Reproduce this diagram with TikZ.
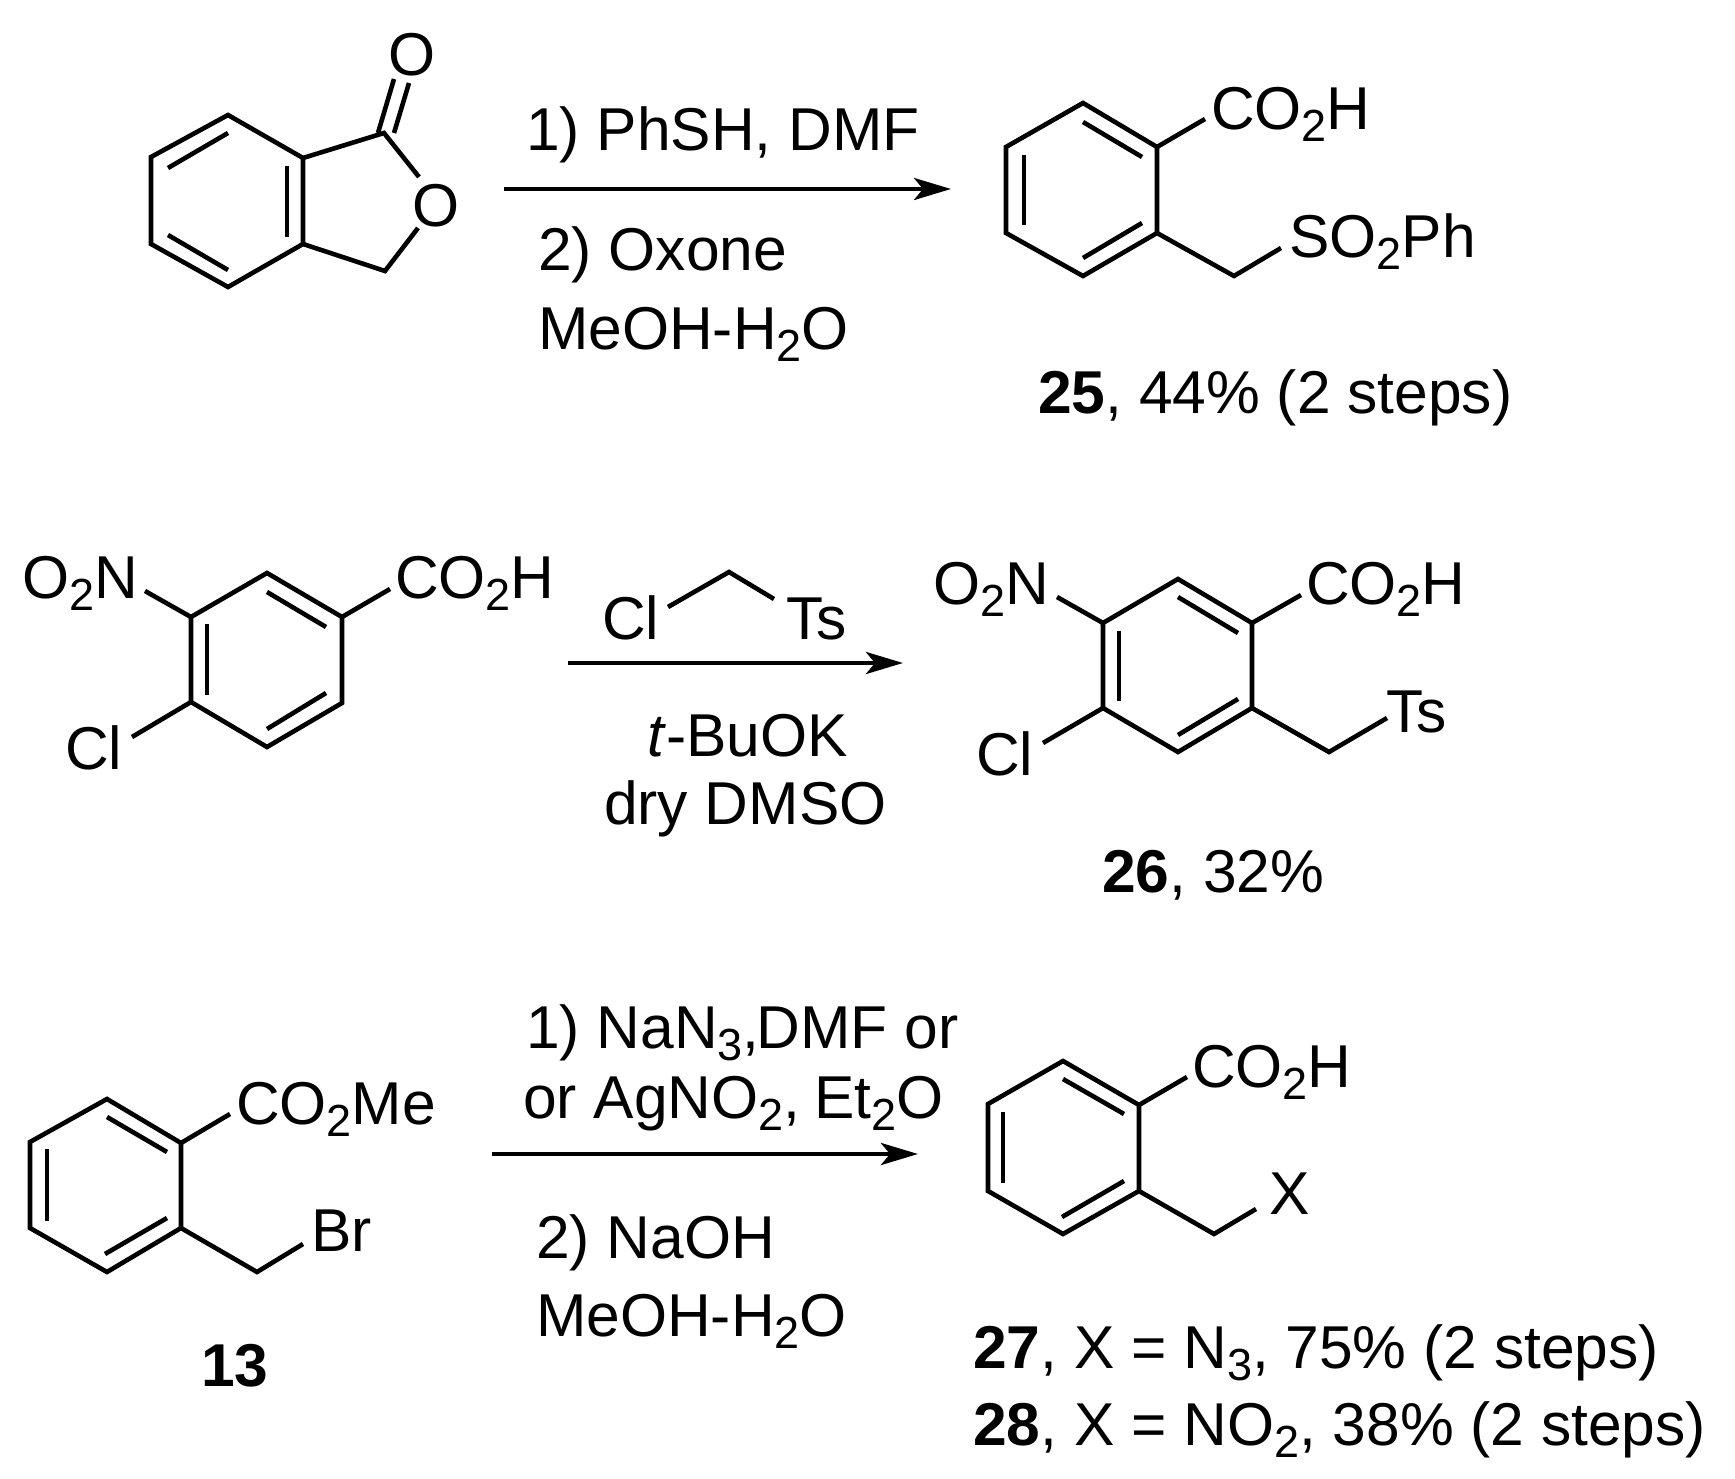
\documentclass[tikz,border=0pt]{standalone}
\usepackage{fontspec}
\setmainfont{Liberation Sans}
\usetikzlibrary{arrows.meta}
\newcommand{\low}[1]{\raisebox{-12pt}{\fontsize{45}{45}\selectfont #1}}
\tikzset{
  lab/.style={anchor=base west,inner sep=0pt,yshift=-1.5pt,font=\fontsize{60.5}{62}\selectfont},
  bond/.style={line width=4.6pt,line join=miter},
  rxn/.style={line width=4.4pt,-{Stealth[length=37pt,width=22pt,inset=9pt]}}
}
\begin{document}
\begin{tikzpicture}[x=1pt,y=-1pt]
        \useasboundingbox (0,0) rectangle (1735,1479);
        % first reaction
        \coordinate (a1) at (228,115);
        \coordinate (a2) at (303,158);
        \coordinate (a3) at (303,244);
        \coordinate (a4) at (228,287);
        \coordinate (a5) at (151,244);
        \coordinate (a6) at (151,157);
        \coordinate (a7) at (384,133);
        \coordinate (a8) at (385,271);
        \draw[bond] (a1) -- (a2) -- (a3) -- (a4) -- (a5) -- (a6) -- cycle;
        \draw[bond] (168,168) -- (228,133);
        \draw[bond] (168,235) -- (228,270);
        \draw[bond] (287,166) -- (287,237);
        \node[lab] (oxoA) at (388,74) {O};
        \node[lab] (oxyA) at (412,225) {O};
        \coordinate (oxoAa) at (394,79);
        \coordinate (oxoAb) at (409,83);
        \coordinate (oxyAa) at (419,177);
        \coordinate (oxyAb) at (418,228);
        \draw[bond] (a2) -- (a7) -- (oxyAa);
        \draw[bond] (a3) -- (a8) -- (oxyAb);
        \draw[bond] (378,133) -- (oxoAa);
        \draw[bond] (394,133) -- (oxoAb);
        \coordinate (arrAs) at (504,189);
        \coordinate (arrAe) at (951,189);
        \draw[rxn] (arrAs) -- (arrAe);
        \node[lab] (reagA) at (526,149) {1) PhSH, DMF};
        \node[lab] (reagB) at (538,269) {2) Oxone};
        \node[lab] (reagC) at (538,348) {MeOH-H\low{2}O};
        % product 25
        \coordinate (b1) at (1083,103);
        \coordinate (b2) at (1157,147);
        \coordinate (b3) at (1157,233);
        \coordinate (b4) at (1083,276);
        \coordinate (b5) at (1006,233);
        \coordinate (b6) at (1006,147);
        \coordinate (b7) at (1234,276);
        \coordinate (b8) at (1205,119);
        \coordinate (b9) at (1281,248);
        \draw[bond] (b1) -- (b2) -- (b3) -- (b4) -- (b5) -- (b6) -- cycle;
        \draw[bond] (1083,122) -- (1142,157);
        \draw[bond] (1024,155) -- (1024,225);
        \draw[bond] (1142,223) -- (1083,258);
        \draw[bond] (b2) -- (b8);
        \draw[bond] (b3) -- (b7) -- (b9);
        \node[lab] (acidB) at (1211,128) {CO\low{2}H};
        \node[lab] (sulfB) at (1289,256) {SO\low{2}Ph};
        \node[lab] (nameB) at (1038,412) {\textbf{25}, 44\% (2 steps)};
        % second reaction
        \coordinate (c1) at (267,573);
        \coordinate (c2) at (342,617);
        \coordinate (c3) at (342,703);
        \coordinate (c4) at (267,747);
        \coordinate (c5) at (191,702);
        \coordinate (c6) at (191,617);
        \coordinate (c7) at (145,591);
        \coordinate (c8) at (390,589);
        \coordinate (c9) at (132,737);
        \draw[bond] (c1) -- (c2) -- (c3) -- (c4) -- (c5) -- (c6) -- cycle;
        \draw[bond] (267,592) -- (326,627);
        \draw[bond] (207,624) -- (207,695);
        \draw[bond] (326,693) -- (267,729);
        \draw[bond] (c6) -- (c7);
        \draw[bond] (c2) -- (c8);
        \draw[bond] (c5) -- (c9);
        \node[lab] (nitroC) at (22,597) {O\low{2}N};
        \node[lab] (acidC) at (395,597) {CO\low{2}H};
        \node[lab] (chloC) at (65,768) {Cl};
        \coordinate (t1) at (668,607);
        \coordinate (t2) at (729,572);
        \coordinate (t3) at (774,599);
        \draw[bond] (t1) -- (t2) -- (t3);
        \node[lab] (chloT) at (602,638) {Cl};
        \node[lab] (tosT) at (786,638) {Ts};
        \coordinate (arrBs) at (568,663);
        \coordinate (arrBe) at (903,663);
        \draw[rxn] (arrBs) -- (arrBe);
        \node[lab] (baseT) at (647,755) {\textit{t}-BuOK};
        \node[lab] (solvT) at (604,823) {dry DMSO};
        % product 26
        \coordinate (d1) at (1178,579);
        \coordinate (d2) at (1252,623);
        \coordinate (d3) at (1252,708);
        \coordinate (d4) at (1178,752);
        \coordinate (d5) at (1103,708);
        \coordinate (d6) at (1103,623);
        \coordinate (d7) at (1329,752);
        \coordinate (d8) at (1057,597);
        \coordinate (d9) at (1301,595);
        \coordinate (d10) at (1043,743);
        \coordinate (d11) at (1387,718);
        \draw[bond] (d1) -- (d2) -- (d3) -- (d4) -- (d5) -- (d6) -- cycle;
        \draw[bond] (1178,597) -- (1238,633);
        \draw[bond] (1119,631) -- (1119,701);
        \draw[bond] (1238,699) -- (1178,735);
        \draw[bond] (d6) -- (d8);
        \draw[bond] (d2) -- (d9);
        \draw[bond] (d5) -- (d10);
        \draw[bond] (d3) -- (d7) -- (d11);
        \node[lab] (nitroD) at (933,603) {O\low{2}N};
        \node[lab] (acidD) at (1306,603) {CO\low{2}H};
        \node[lab] (chloD) at (976,774) {Cl};
        \node[lab] (tosD) at (1386,731) {Ts};
        \node[lab] (nameD) at (1102,891) {\textbf{26}, 32\%};
        % third reaction
        \coordinate (e1) at (107,1099);
        \coordinate (e2) at (181,1143);
        \coordinate (e3) at (181,1228);
        \coordinate (e4) at (107,1272);
        \coordinate (e5) at (30,1228);
        \coordinate (e6) at (30,1142);
        \coordinate (e7) at (257,1272);
        \coordinate (e8) at (230,1114);
        \coordinate (e9) at (303,1244);
        \draw[bond] (e1) -- (e2) -- (e3) -- (e4) -- (e5) -- (e6) -- cycle;
        \draw[bond] (107,1117) -- (167,1152);
        \draw[bond] (47,1149) -- (47,1221);
        \draw[bond] (167,1218) -- (105,1254);
        \draw[bond] (e2) -- (e8);
        \draw[bond] (e3) -- (e7) -- (e9);
        \node[lab] (esterE) at (236,1123) {CO\low{2}Me};
        \node[lab] (bromE) at (311,1250) {Br};
        \node[lab] (nameE) at (201,1385) {\textbf{13}};
        \node[lab] (reagD) at (526,1047) {1) NaN\low{3},\hspace{-3pt}DMF or};
        \node[lab] (reagE) at (523,1117) {or AgNO\low{2},\hspace{-3pt} Et\low{2}O};
        \coordinate (arrCs) at (492,1154);
        \coordinate (arrCe) at (918,1154);
        \draw[rxn] (arrCs) -- (arrCe);
        \node[lab] (reagF) at (536,1257) {2) NaOH};
        \node[lab] (reagG) at (536,1335) {MeOH-H\low{2}O};
        % products 27 and 28
        \coordinate (f1) at (1063,1061);
        \coordinate (f2) at (1139,1105);
        \coordinate (f3) at (1139,1191);
        \coordinate (f4) at (1063,1234);
        \coordinate (f5) at (988,1191);
        \coordinate (f6) at (988,1104);
        \coordinate (f7) at (1214,1234);
        \coordinate (f8) at (1187,1077);
        \coordinate (f9) at (1256,1209);
        \draw[bond] (f1) -- (f2) -- (f3) -- (f4) -- (f5) -- (f6) -- cycle;
        \draw[bond] (1063,1079) -- (1124,1114);
        \draw[bond] (1003,1112) -- (1003,1183);
        \draw[bond] (1124,1181) -- (1062,1217);
        \draw[bond] (f2) -- (f8);
        \draw[bond] (f3) -- (f7) -- (f9);
        \node[lab] (acidF) at (1192,1086) {CO\low{2}H};
        \node[lab] (groupF) at (1269,1213) {X};
        \node[lab] (nameF) at (973,1367) {\textbf{27}, X = N\low{3}, 75\% (2 steps)};
        \node[lab] (nameG) at (973,1444) {\textbf{28}, X = NO\low{2}, 38\% (2 steps)};
      \end{tikzpicture}
\end{document}
